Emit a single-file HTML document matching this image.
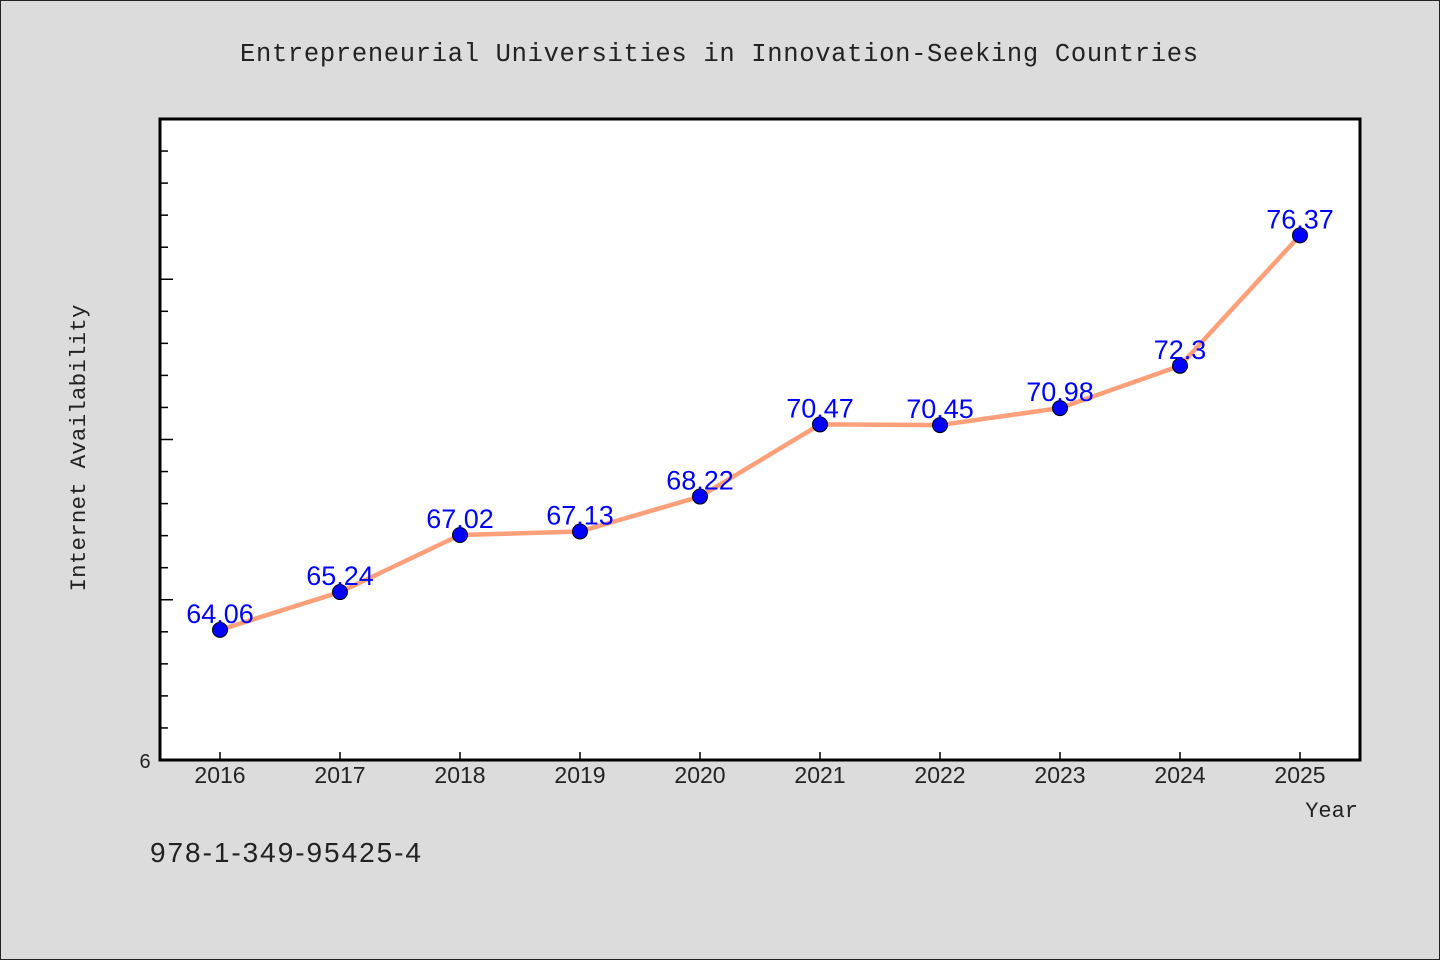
<!DOCTYPE html>
<html><head><meta charset="utf-8"><style>
html,body{margin:0;padding:0;background:#dcdcdc;}
svg{display:block;font-family:"Liberation Sans","WenQuanYi Zen Hei",sans-serif;}
</style></head><body>
<svg id="chart" width="1440" height="960" xmlns="http://www.w3.org/2000/svg">
<rect x="0.5" y="0.5" width="1439" height="959" fill="#dcdcdc" stroke="#222"/>
<text x="719" y="61" text-anchor="middle" font-family="Liberation Mono, monospace" font-size="25.5" fill="#222" textLength="958">Entrepreneurial Universities in Innovation-Seeking Countries</text>
<rect x="160" y="119" width="1200" height="641" fill="#fff"/>
<g id="yticks"></g>
<g id="xticks"></g>
<g id="series"></g>
<rect x="160" y="119" width="1200" height="641" fill="none" stroke="#000" stroke-width="3"/>
<text x="145" y="768" text-anchor="middle" font-size="20" fill="#222">6</text>
<text transform="translate(85,448) rotate(-90)" text-anchor="middle" font-family="Liberation Mono, monospace" font-size="22.5" fill="#222" textLength="287">Internet Availability</text>
<text x="1358" y="817" text-anchor="end" font-family="Liberation Mono, monospace" font-size="22" fill="#222">Year</text>
<text x="150" y="862" font-size="28" fill="#222" textLength="271">978-1-349-95425-4</text>
</svg>
<script>
const years = ["2016","2017","2018","2019","2020","2021","2022","2023","2024","2025"];
const values = [64.06,65.24,67.02,67.13,68.22,70.47,70.45,70.98,72.3,76.37];
const labels = ["64.06","65.24","67.02","67.13","68.22","70.47","70.45","70.98","72.3","76.37"];
const yMin = 60, yMax = 80;
const NS = "http://www.w3.org/2000/svg";
const X0 = 160, X1 = 1360, Y0 = 760, Y1 = 119;
function xScale(i){ return 220 + i * (1080 / (years.length - 1)); }
function yScale(v){ return Y0 - (v - yMin) / (yMax - yMin) * (Y0 - Y1); }
function mk(tag, attrs, parent){ const e = document.createElementNS(NS, tag); for (const k in attrs) e.setAttribute(k, attrs[k]); parent.appendChild(e); return e; }
const yt = document.getElementById('yticks');
for (let v = yMin + 1; v < yMax; v++) {
  const y = yScale(v);
  const len = v % 5 === 0 ? 13 : 8;
  const t = mk('line', {x1: X0, x2: X0 + len, y1: y, y2: y, stroke: '#000', 'stroke-width': 1.5}, yt);
  
  
}
const xt = document.getElementById('xticks');
years.forEach((yr, i) => {
  const x = xScale(i);
  const t = mk('line', {x1: x, x2: x, y1: Y0 - 8, y2: Y0, stroke: '#000', 'stroke-width': 1.5}, xt);
  
  
  const l = mk('text', {x: x, y: 783, 'text-anchor': 'middle', 'font-size': 23, fill: '#222'}, xt);
  l.textContent = yr;
  
  
});
const sg = document.getElementById('series');
const pts = values.map((v, i) => xScale(i) + ',' + yScale(v)).join(' ');
const line = mk('polyline', {points: pts, fill: 'none', stroke: '#ffa07a', 'stroke-width': 4.5, 'stroke-linejoin': 'round'}, sg);


values.forEach((v, i) => {
  const c = mk('circle', {cx: xScale(i), cy: yScale(v), r: 7.5, fill: '#0000ff', stroke: '#000', 'stroke-width': 1}, sg);
  
  
});
values.forEach((v, i) => {
  const t = mk('text', {x: xScale(i), y: yScale(v) - 7, 'text-anchor': 'middle', 'font-size': 27, fill: '#0000ff'}, sg);
  t.textContent = labels[i];
  
  
});
</script>
</body></html>
